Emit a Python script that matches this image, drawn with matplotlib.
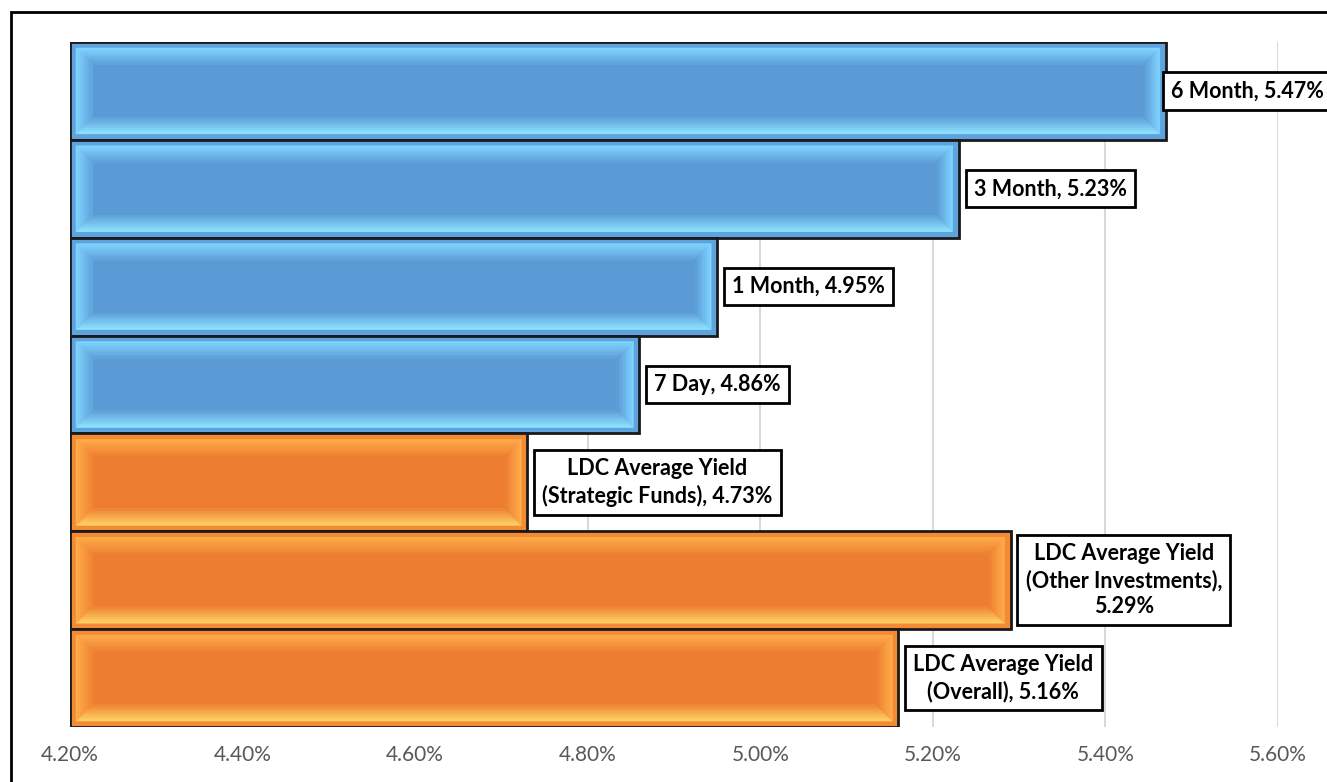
import matplotlib
matplotlib.use('Agg')
import matplotlib.pyplot as plt
from matplotlib.patches import Polygon, Rectangle
from matplotlib import ticker
import numpy as np

plt.rcParams['font.family'] = ['Lato', 'DejaVu Sans']

# data, top to bottom
labels = ['6 Month', '3 Month', '1 Month', '7 Day',
          'LDC Average Yield\n(Strategic Funds)',
          'LDC Average Yield\n(Other Investments),\n',
          'LDC Average Yield\n(Overall)']
values = [5.47, 5.23, 4.95, 4.86, 4.73, 5.29, 5.16]
groups = ['treasury', 'treasury', 'treasury', 'treasury', 'ldc', 'ldc', 'ldc']
xticks = [4.20, 4.40, 4.60, 4.80, 5.00, 5.20, 5.40, 5.60]

# style per group: ring, face, light edge (top/left/right), light bottom
palette = {
    'treasury': dict(ring='#5fa3de', face='#5b9bd5', light='#7fd3ff', bottom='#8de3ff'),
    'ldc': dict(ring='#f38a36', face='#ed7d31', light='#ffac48', bottom='#ffd062'),
}

W, H = 1327, 782
fig = plt.figure(figsize=(W / 100, H / 100), dpi=100)
ax_l, ax_r, ax_t, ax_b = 70, 1278, 42, 727
ax = fig.add_axes([ax_l / W, 1 - ax_b / H, (ax_r - ax_l) / W, (ax_b - ax_t) / H])

xmin, xmax = 4.20, 5.60
n = len(values)
ypos = np.arange(n)
ax.set_xlim(xmin, xmax)
ax.set_ylim(n - 0.5, -0.5)

ax.grid(axis='x', color='#d9d9d9', lw=1.5, zorder=0)
ax.set_axisbelow(True)
for s in ax.spines.values():
    s.set_visible(False)
ax.set_yticks([])
ax.set_xticks(xticks)
ax.xaxis.set_major_formatter(ticker.FuncFormatter(lambda v, p: '%.2f%%' % v))
ax.tick_params(axis='x', length=0, pad=13, labelsize=15, labelcolor='#595959')

rings = [palette[g]['ring'] for g in groups]
ax.barh(ypos, np.array(values) - xmin, left=xmin, height=1.0, color=rings,
        edgecolor='#1a1a1a', linewidth=2, zorder=2)

# bevel effect: pixel sizes converted to data units
px_x = (xmax - xmin) / (ax_r - ax_l)
px_y = n / (ax_b - ax_t)
outer, bevel, steps = 6, 17, 8


def mix(c1, c2, t):
    a = np.array(matplotlib.colors.to_rgb(c1))
    b = np.array(matplotlib.colors.to_rgb(c2))
    return tuple(a + (b - a) * t)


def rect_at(x0, x1, y0, y1, k):
    d = outer + k
    return (x0 + d * px_x, x1 - d * px_x, y0 + d * px_y, y1 - d * px_y)


for y, v, g in zip(ypos, values, groups):
    p = palette[g]
    x0, x1, y0, y1 = xmin, v, y - 0.5, y + 0.5
    for k in range(steps):
        t = k / steps
        a = rect_at(x0, x1, y0, y1, bevel * k / steps)
        b = rect_at(x0, x1, y0, y1, bevel * (k + 1) / steps)
        # y0 is the top on screen (inverted axis)
        sides = [
            ([(a[0], a[2]), (a[1], a[2]), (b[1], b[2]), (b[0], b[2])], mix(p['light'], p['face'], t)),
            ([(a[0], a[3]), (a[1], a[3]), (b[1], b[3]), (b[0], b[3])], mix(p['bottom'], p['face'], t)),
            ([(a[0], a[2]), (b[0], b[2]), (b[0], b[3]), (a[0], a[3])], mix(p['light'], p['face'], t * 0.9)),
            ([(a[1], a[2]), (b[1], b[2]), (b[1], b[3]), (a[1], a[3])], mix(p['light'], p['face'], min(1, t * 1.1))),
        ]
        for pts, c in sides:
            ax.add_patch(Polygon(pts, closed=True, facecolor=c, edgecolor=c, lw=0.4, zorder=3))
    f = rect_at(x0, x1, y0, y1, bevel)
    ax.add_patch(Rectangle((f[0], f[2]), f[1] - f[0], f[3] - f[2], facecolor=p['face'],
                           edgecolor='none', zorder=4))

# data labels
for i, (lab, v) in enumerate(zip(labels, values)):
    sep = '' if lab.endswith('\n') else ', '
    text = '%s%s%.2f%%' % (lab, sep, v)
    off = 5 if v + 0.18 > xmax else 15
    ax.annotate(text, xy=(v, i), xytext=(off, 0), textcoords='offset pixels',
                ha='left', va='center', multialignment='center', fontsize=15.5,
                fontweight='bold', color='black', linespacing=1.3, zorder=6,
                annotation_clip=False,
                bbox=dict(boxstyle='square,pad=0.38', fc='white', ec='black', lw=2))

# chart area border (right/bottom edges fall outside the picture)
fig.add_artist(Rectangle((11 / W, -0.1), 1.2, 1 - 12 / H + 0.1, transform=fig.transFigure,
                         fill=False, edgecolor='black', lw=2, zorder=10))

fig.savefig('out.png', dpi=100)
